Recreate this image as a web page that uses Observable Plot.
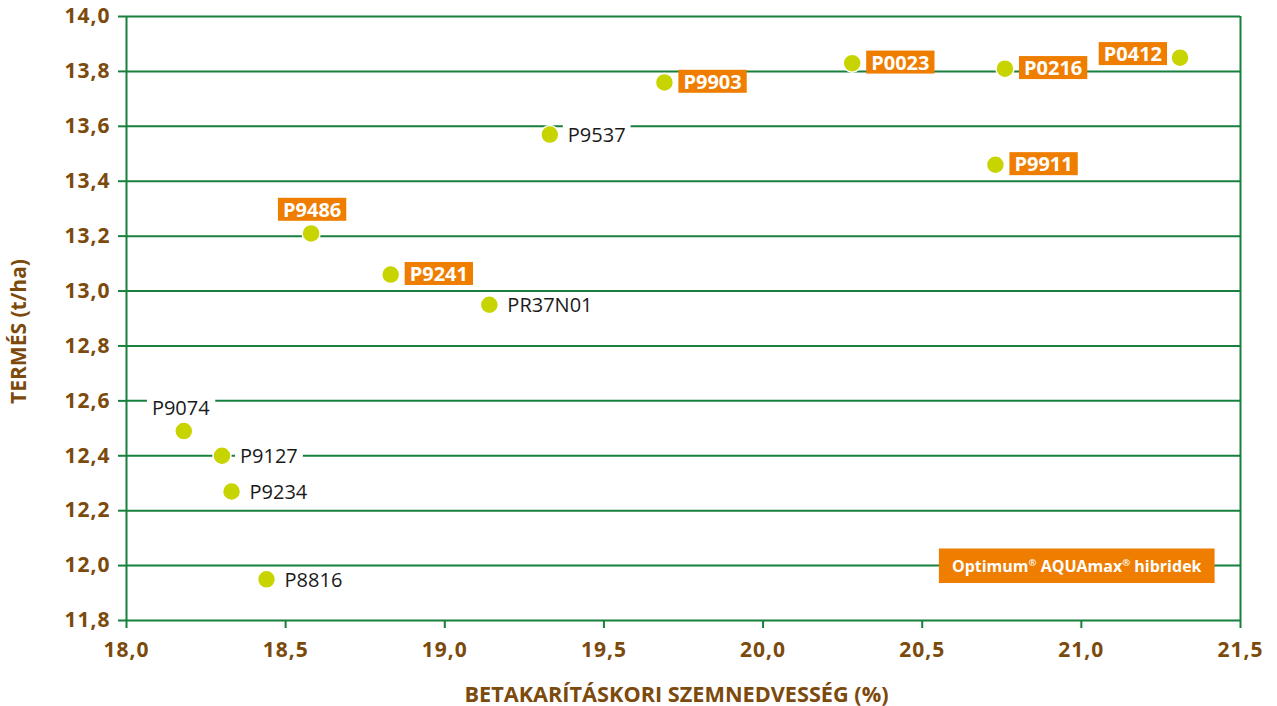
<!DOCTYPE html>
<html>
<head>
<meta charset="utf-8">
<script src="https://cdn.jsdelivr.net/npm/d3@7"></script>
<script src="https://cdn.jsdelivr.net/npm/@observablehq/plot@0.6"></script>
<style>
  html, body { margin: 0; padding: 0; background: #fff; overflow: hidden; }
  #chart svg { display: block; }
  g[aria-description="tick-labels"] text { letter-spacing: 1px; }
</style>
</head>
<body>
<div id="chart"></div>
<script>
// ---- Data ----
const hybrids  = ["P9074","P9127","P9234","P8816","P9486","P9241","PR37N01","P9537","P9903","P0023","P0216","P0412","P9911"];
const moisture = [18.18, 18.30, 18.33, 18.44, 18.58, 18.83, 19.14, 19.33, 19.69, 20.28, 20.76, 21.31, 20.73];
const yieldTHa = [12.49, 12.40, 12.27, 11.95, 13.21, 13.06, 12.95, 13.57, 13.76, 13.83, 13.81, 13.85, 13.46];
const aquamax  = [false, false, false, false, true, true, false, false, true, true, true, true, true];
const xTicks = [18.0, 18.5, 19.0, 19.5, 20.0, 20.5, 21.0, 21.5];
const yTicks = [11.8, 12.0, 12.2, 12.4, 12.6, 12.8, 13.0, 13.2, 13.4, 13.6, 13.8, 14.0];
const xTitle = "BETAKARÍTÁSKORI SZEMNEDVESSÉG (%)";
const yTitle = "TERMÉS (t/ha)";
const legendLabel = "Optimum® AQUAmax® hibridek";

// label placement (by hybrid), default: right of the dot
const labelSide = {P9074: "above", P9486: "above", P0412: "left"};

const rows = hybrids.map((name, i) => ({
  name, x: moisture[i], y: yieldTHa[i], aqua: aquamax[i], side: labelSide[name] || "right"
}));

const GREEN = "#17803d", BROWN = "#7b4a0c", ORANGE = "#ef7d00", DOT = "#c8d400";
const FONT = "'Open Sans', sans-serif";
const fmt = d => d.toFixed(1).replace(".", ",");

const plain = rows.filter(d => !d.aqua), boxed = rows.filter(d => d.aqua);
const plainText = {x: "x", y: "y", text: "name", fill: "#1a1a1a", fontSize: 20, fontFamily: FONT, ariaDescription: "plain-label"};
const boxedText = {x: "x", y: "y", text: "name", fill: "white", fontSize: 20, fontWeight: "bold", fontFamily: FONT, ariaDescription: "boxed-label"};

const chart = Plot.plot({
  width: 1277,
  height: 706,
  marginLeft: 126,
  marginRight: 37,
  marginTop: 16,
  marginBottom: 86,
  style: {fontFamily: FONT, background: "white"},
  x: {domain: [xTicks[0], xTicks[xTicks.length - 1]]},
  y: {domain: [yTicks[0], yTicks[yTicks.length - 1]]},
  marks: [
    Plot.ruleY(yTicks, {stroke: GREEN, strokeWidth: 2}),
    Plot.ruleX([xTicks[0], xTicks[xTicks.length - 1]], {stroke: GREEN, strokeWidth: 2}),
    Plot.axisY(yTicks, {tickSize: 8, tickPadding: 8, tickFormat: fmt, stroke: GREEN, strokeWidth: 2,
      fill: BROWN, fontSize: 21, fontWeight: "bold", fontFamily: FONT, label: null, ariaDescription: "tick-labels"}),
    Plot.axisX(xTicks, {tickSize: 8, tickPadding: 14, tickFormat: fmt, stroke: GREEN, strokeWidth: 2,
      fill: BROWN, fontSize: 21, fontWeight: "bold", fontFamily: FONT, label: null, ariaDescription: "tick-labels"}),
    Plot.text([yTitle], {frameAnchor: "left", textAnchor: "middle", rotate: -90, dx: -107, dy: 13, fill: BROWN,
      fontSize: 21, fontWeight: "bold", fontFamily: FONT}),
    Plot.text([xTitle], {frameAnchor: "bottom", dx: -7, dy: 81, fill: BROWN,
      fontSize: 21.7, fontWeight: "bold", fontFamily: FONT}),
    // plain labels
    Plot.text(plain.filter(d => d.side === "right"), {...plainText, textAnchor: "start", dx: 18, dy: 1}),
    Plot.text(plain.filter(d => d.side === "above"), {...plainText, textAnchor: "middle", dx: -3, dy: -22}),
    // boxed (AQUAmax) labels
    Plot.text(boxed.filter(d => d.side === "right"), {...boxedText, textAnchor: "start", dx: 19, dy: 0}),
    Plot.text(boxed.filter(d => d.side === "above"), {...boxedText, textAnchor: "middle", dx: 1, dy: -23}),
    Plot.text(boxed.filter(d => d.side === "left"), {...boxedText, textAnchor: "end", dx: -18, dy: -3}),
    // dots
    Plot.dot(rows, {x: "x", y: "y", r: 9, fill: DOT, stroke: "white", strokeWidth: 1.5}),
    // legend box
    Plot.text([legendLabel], {frameAnchor: "bottom-right", dx: -39, dy: -49, textAnchor: "end",
      fill: "white", fontSize: 16, fontWeight: "bold", fontFamily: FONT, ariaDescription: "legend-label"})
  ]
});

document.getElementById("chart").appendChild(chart);

// superscript ® in the legend
d3.select(chart).selectAll('g[aria-description="legend-label"] text').each(function () {
  const t = d3.select(this);
  const parts = this.textContent.split("®");
  t.text(null);
  parts.forEach((p, i) => {
    t.append("tspan").text(p);
    if (i < parts.length - 1) {
      t.append("tspan").attr("font-size", "0.6em").attr("baseline-shift", "super").text("®");
    }
  });
});

// backgrounds behind labels, sized from the rendered text
function addBoxes(desc, fill, padX, padTop, padBottom) {
  d3.select(chart).selectAll(`g[aria-description="${desc}"] text`).each(function () {
    const bb = this.getBBox();
    const r = document.createElementNS("http://www.w3.org/2000/svg", "rect");
    r.setAttribute("x", bb.x - padX);
    r.setAttribute("y", bb.y - padTop);
    r.setAttribute("width", bb.width + 2 * padX);
    r.setAttribute("height", bb.height + padTop + padBottom);
    r.setAttribute("fill", fill);
    r.setAttribute("stroke", "none");
    const tr = this.getAttribute("transform");
    if (tr) r.setAttribute("transform", tr);
    this.parentNode.insertBefore(r, this);
  });
}
addBoxes("plain-label", "white", 5, -2, -2);
addBoxes("boxed-label", ORANGE, 5, -2, -2);
addBoxes("legend-label", ORANGE, 13, 6, 6.5);
</script>
</body>
</html>
